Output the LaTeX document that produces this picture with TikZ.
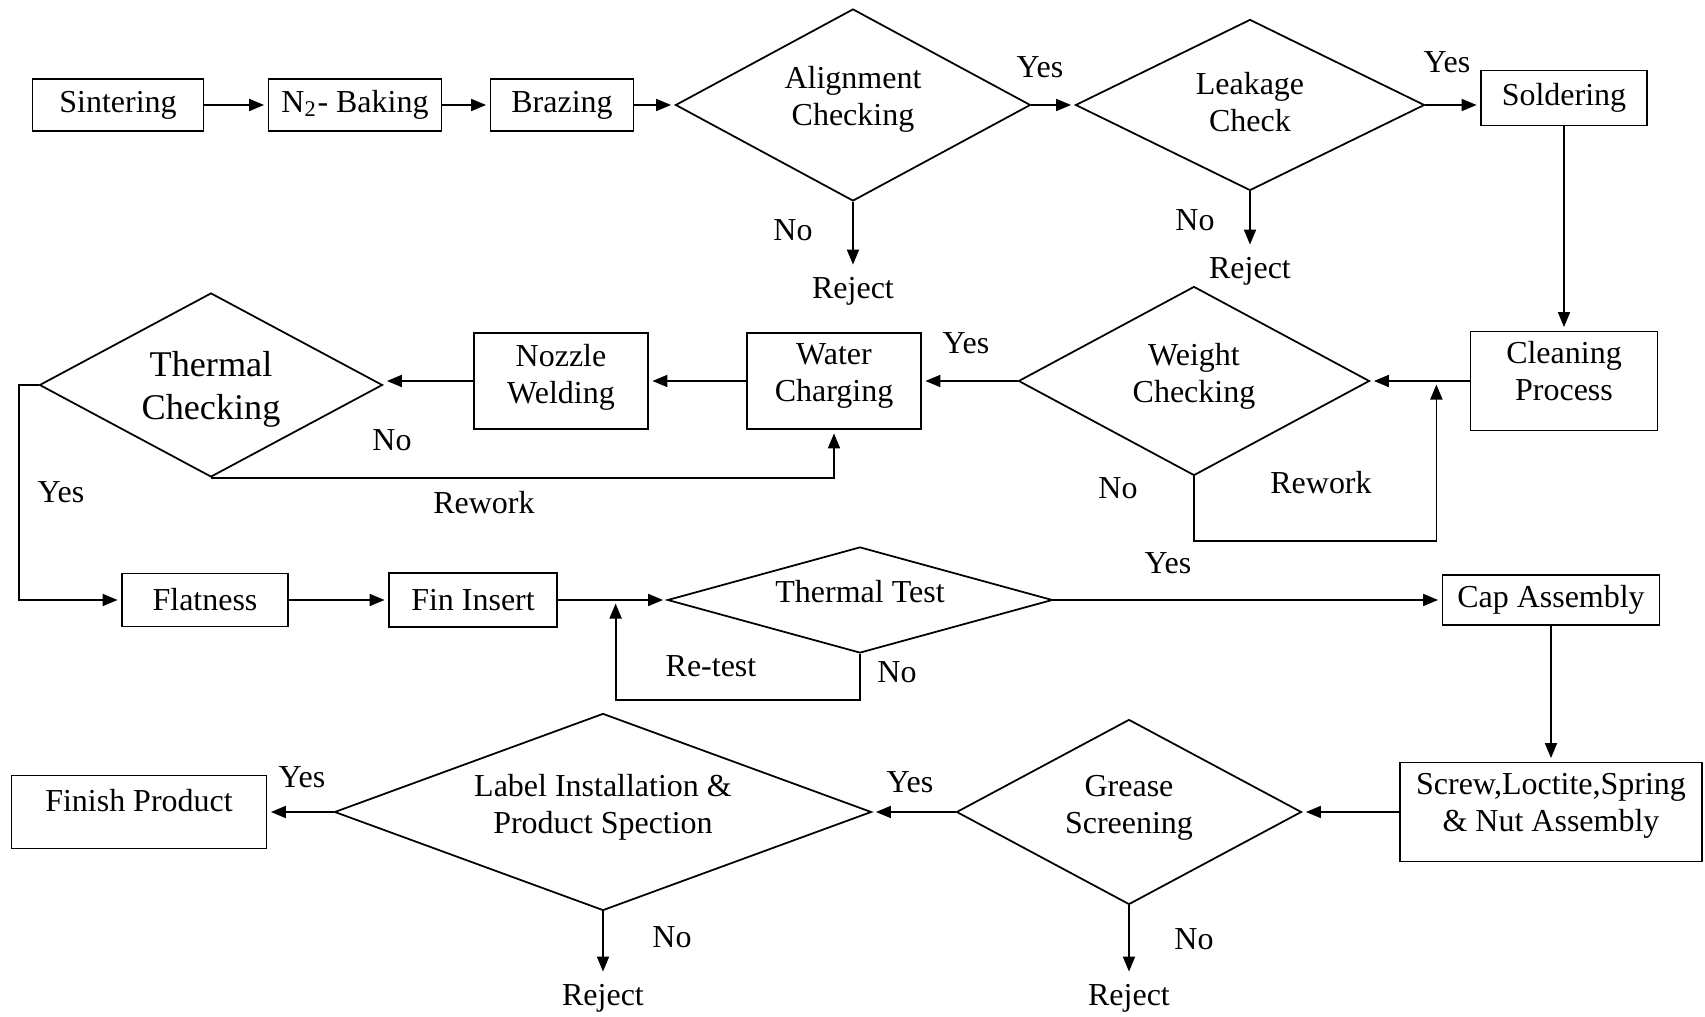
\documentclass[tikz,border=0pt]{standalone}
\usepackage{fontspec}
\setmainfont{Liberation Serif}
\usetikzlibrary{arrows.meta,positioning,shapes.geometric}

\newcommand{\lowpad}[1][0.17cm]{\rule[-#1]{0pt}{0pt}}

\tikzset{
  proc/.style={draw,rectangle,inner sep=0pt,align=center},
  decide/.style={draw,diamond,inner sep=0pt,align=center},
  txt/.style={inner sep=0.08cm},
}

\begin{document}
\begin{tikzpicture}[->,>={Triangle[length=0.15cm,width=0.12cm]},shorten >=1pt,%
    line width=0.5pt,on grid,font=\fontsize{9.1pt}{10.5pt}\selectfont]
    \useasboundingbox (0,0) rectangle (17.05,-10.17);
    % row 1
    \node[proc,minimum width=1.71cm,minimum height=0.52cm] (sint) at (1.18,-1.05) {Sintering};
    \node[proc,minimum width=1.73cm,minimum height=0.52cm] (bake) [right=2.37cm of sint] {N\textsubscript{2}- Baking};
    \node[proc,minimum width=1.43cm,minimum height=0.52cm] (braz) [right=2.07cm of bake] {Brazing};
    \node[decide,minimum width=3.55cm,minimum height=1.92cm,aspect=1.85] (align) [right=2.91cm of braz] {Alignment\\Checking\lowpad[0.18cm]};
    \node[decide,minimum width=3.49cm,minimum height=1.71cm,aspect=2.04] (leak) [right=3.97cm of align] {Leakage\\Check\lowpad[0.07cm]};
    \node[proc,minimum width=1.66cm,minimum height=0.55cm] (sold) [above right=0.07cm and 3.14cm of leak] {Soldering};
    \node[txt] (rejA) [below=1.86cm of align] {Reject};
    \node[txt] (rejB) [below=1.66cm of leak] {Reject};
    % row 2
    \node[proc,minimum width=1.87cm,minimum height=0.99cm] (clean) [below=2.83cm of sold] {Cleaning\\Process\lowpad[0.2cm]};
    \node[decide,minimum width=3.51cm,minimum height=1.89cm,aspect=1.86] (weight) [left=3.70cm of clean] {Weight\\Checking\lowpad};
    \node[proc,minimum width=1.74cm,minimum height=0.96cm] (water) [left=3.60cm of weight] {Water\\Charging\lowpad};
    \node[proc,minimum width=1.74cm,minimum height=0.96cm] (nozzle) [left=2.73cm of water] {Nozzle\\Welding\lowpad[0.15cm]};
    \node[decide,minimum width=3.43cm,minimum height=1.84cm,aspect=1.86,
      font=\fontsize{10.3pt}{12.2pt}\selectfont] (tcheck) [below left=0.04cm and 3.50cm of nozzle] {\rule{0pt}{0.34cm}Thermal\\Checking};
    % row 3
    \node[proc,minimum width=1.66cm,minimum height=0.53cm] (flat) [below left=2.15cm and 0.06cm of tcheck] {Flatness};
    \node[proc,minimum width=1.68cm,minimum height=0.54cm] (fin) [right=2.68cm of flat] {Fin Insert};
    \node[decide,minimum width=3.85cm,minimum height=1.06cm,aspect=3.63] (ttest) [right=3.87cm of fin] {Thermal Test\lowpad[0.18cm]};
    \node[proc,minimum width=2.17cm,minimum height=0.50cm] (cap) [right=6.91cm of ttest] {Cap Assembly};
    % row 4
    \node[proc,minimum width=3.02cm,minimum height=0.99cm] (screw) [below=2.12cm of cap] {Screw,Loctite,Spring\\\& Nut Assembly\lowpad[0.2cm]};
    \node[decide,minimum width=3.45cm,minimum height=1.85cm,aspect=1.86] (grease) [left=4.22cm of screw] {Grease\\Screening\lowpad[0.15cm]};
    \node[decide,minimum width=5.37cm,minimum height=1.97cm,aspect=2.73] (labinst) [left=5.26cm of grease] {Label Installation \&\\Product Spection\lowpad};
    \node[proc,minimum width=2.55cm,minimum height=0.73cm] (finish) [left=4.64cm of labinst] {Finish Product\lowpad[0.24cm]};
    \node[txt] (rejC) [below=1.86cm of grease] {Reject};
    \node[txt] (rejD) [below=1.86cm of labinst] {Reject};
    % loop ends
    \coordinate[right=0.66cm of weight.east] (wtip);
    \coordinate[left=0.51cm of ttest.west] (rtip);
    % labels
    \node[txt] (yesA) at (10.40,-0.67) {Yes};
    \node[txt] (yesB) at (14.47,-0.62) {Yes};
    \node[txt] (noA) at (7.93,-2.30) {No};
    \node[txt] (noB) at (11.95,-2.20) {No};
    \node[txt] (yesC) at (9.66,-3.43) {Yes};
    \node[txt] (noC) at (11.18,-4.88) {No};
    \node[txt] (rwA) at (13.21,-4.83) {Rework};
    \node[txt] (noD) at (3.92,-4.40) {No};
    \node[txt] (rwB) at (4.84,-5.03) {Rework};
    \node[txt] (yesD) at (0.61,-4.92) {Yes};
    \node[txt] (yesE) at (11.68,-5.63) {Yes};
    \node[txt] (rtA) at (7.11,-6.66) {Re-test};
    \node[txt] (noE) at (8.97,-6.72) {No};
    \node[txt] (yesF) at (9.10,-7.82) {Yes};
    \node[txt] (noF) at (11.94,-9.39) {No};
    \node[txt] (yesG) at (3.02,-7.77) {Yes};
    \node[txt] (noG) at (6.72,-9.37) {No};
    % connectors
    \path (sint) edge (bake)
    (bake) edge (braz)
    (braz) edge (align)
    (align) edge (leak)
    edge (rejA)
    (leak) edge (rejB)
    (sold) edge (clean)
    (clean) edge (weight)
    (weight) edge (water)
    (water) edge (nozzle)
    (nozzle) edge (nozzle.west -| tcheck.east)
    (flat) edge (fin)
    (fin) edge (ttest)
    (ttest) edge (cap)
    (cap) edge (screw)
    (screw) edge (grease)
    (grease) edge (labinst)
    edge (rejC)
    (labinst) edge (finish)
    edge (rejD);
    \draw (leak.east) -- (leak.east -| sold.west);
    \draw (weight.south) -- ++(0,-0.65) -| (wtip);
    \draw (tcheck.south) -| (water.south);
    \draw (tcheck.west) -- ++(-0.2,0) |- (flat.west);
    \draw (ttest.south) -- ++(0,-0.46) -| (rtip);
\end{tikzpicture}
\end{document}
